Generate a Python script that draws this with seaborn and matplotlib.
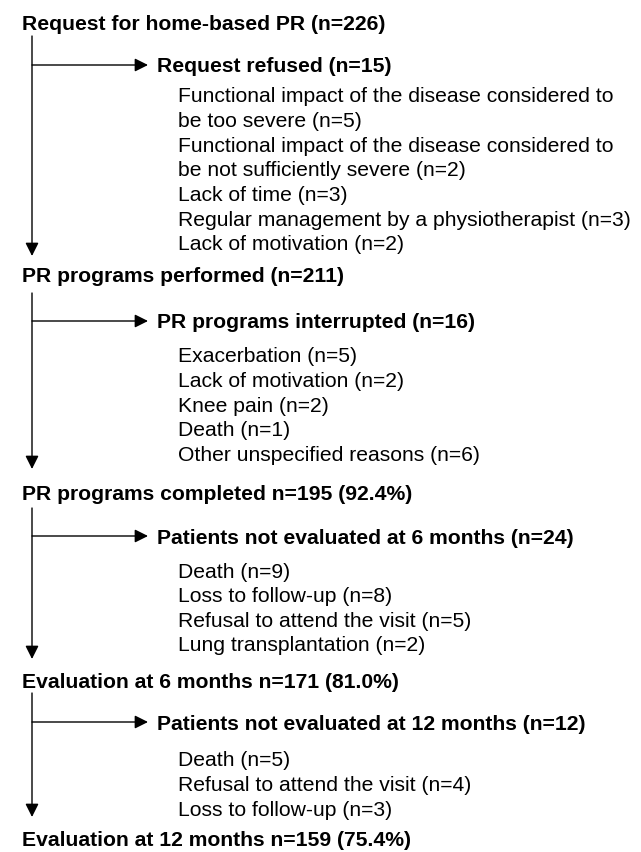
import matplotlib
matplotlib.use("Agg")
import matplotlib.pyplot as plt
import seaborn as sns

# ---- data ----
stage_titles = ["Request for home-based PR", "PR programs performed", "PR programs completed",
                "Evaluation at 6 months", "Evaluation at 12 months"]
stage_n = [226, 211, 195, 171, 159]
stage_pct = [None, None, 92.4, 81.0, 75.4]

exit_titles = ["Request refused", "PR programs interrupted",
               "Patients not evaluated at 6 months", "Patients not evaluated at 12 months"]
exit_n = [15, 16, 24, 12]

reasons_refused = ["Functional impact of the disease considered to\nbe too severe",
                   "Functional impact of the disease considered to\nbe not sufficiently severe",
                   "Lack of time", "Regular management by a physiotherapist", "Lack of motivation"]
reasons_refused_n = [5, 2, 3, 3, 2]
reasons_interrupted = ["Exacerbation", "Lack of motivation", "Knee pain", "Death",
                       "Other unspecified reasons"]
reasons_interrupted_n = [5, 2, 2, 1, 6]
reasons_6m = ["Death", "Loss to follow-up", "Refusal to attend the visit", "Lung transplantation"]
reasons_6m_n = [9, 8, 5, 2]
reasons_12m = ["Death", "Refusal to attend the visit", "Loss to follow-up"]
reasons_12m_n = [5, 4, 3]
reasons = [(reasons_refused, reasons_refused_n), (reasons_interrupted, reasons_interrupted_n),
           (reasons_6m, reasons_6m_n), (reasons_12m, reasons_12m_n)]

# ---- layout (pixel coordinates) ----
W, H = 641, 852
header_y = [22, 275, 492, 681, 839]
line_start = [36, 293, 508, 693]
tip_y = [256, 469, 659, 817]
branch_y = [65, 321, 536, 722]
item_y0 = [95, 355, 570, 759]
line_step = 24.6
x_main, x_text, x_branch_end, x_branch_text, x_item = 32, 22, 148, 157, 178
fs = 15.2
base_off = 7.5

sns.set_theme(style="white")
plt.rcParams['font.family'] = ['Liberation Sans', 'DejaVu Sans']

fig = plt.figure(figsize=(W / 100, H / 100), dpi=100)
ax = fig.add_axes([0, 0, 1, 1])
ax.set_xlim(0, W)
ax.set_ylim(H, 0)
ax.axis("off")

def stage_label(i):
    if stage_pct[i] is None:
        return f"{stage_titles[i]} (n={stage_n[i]})"
    return f"{stage_titles[i]} n={stage_n[i]} ({stage_pct[i]:.1f}%)"

arrow_kw = dict(arrowstyle="-|>,head_length=0.4,head_width=0.2", color="black", lw=1.0,
                shrinkA=0, shrinkB=0, mutation_scale=20)

for i in range(len(stage_titles)):
    ax.text(x_text, header_y[i] + base_off, stage_label(i), fontsize=fs, fontweight="bold",
            ha="left", va="baseline", color="black")

for k in range(len(exit_titles)):
    ax.annotate("", xy=(x_main, tip_y[k]), xytext=(x_main, line_start[k]), arrowprops=arrow_kw)
    ax.annotate("", xy=(x_branch_end, branch_y[k]), xytext=(x_main, branch_y[k]), arrowprops=arrow_kw)
    ax.text(x_branch_text, branch_y[k] + base_off, f"{exit_titles[k]} (n={exit_n[k]})",
            fontsize=fs, fontweight="bold", ha="left", va="baseline", color="black")
    y = item_y0[k]
    labs, ns = reasons[k]
    for lab, n in zip(labs, ns):
        lines = f"{lab} (n={n})".split("\n")
        for ln in lines:
            ax.text(x_item, y + base_off, ln, fontsize=fs, ha="left", va="baseline", color="black")
            y += line_step

fig.savefig("out.png", dpi=100)
